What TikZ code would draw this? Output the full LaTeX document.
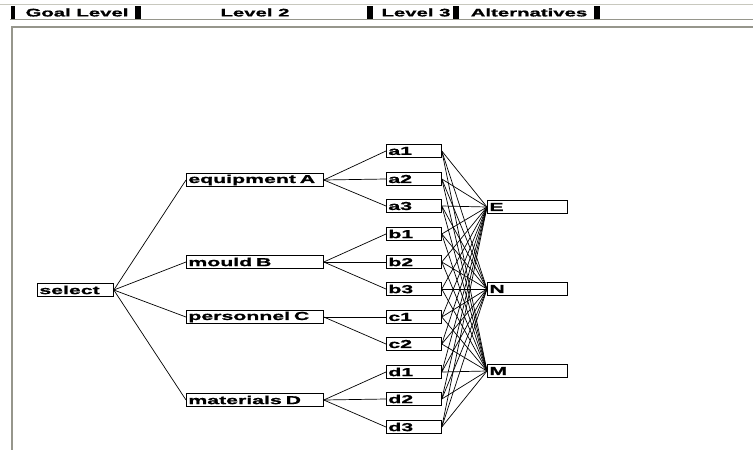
\documentclass[tikz,border=0pt]{standalone}
\usepackage{fontspec}
\newfontfamily\boxfont[FakeStretch=1.85,FakeBold=1.2]{Liberation Sans}
\definecolor{framegray}{RGB}{150,150,140}
\definecolor{lightgray}{RGB}{200,200,190}
\tikzset{
  box/.style={draw=black, line width=0.8pt, fill=white, anchor=west, inner sep=0pt,
    minimum height=13pt, align=left, font=\boxfont\bfseries\fontsize{11.5}{11}\selectfont},
  goalbox/.style={box, text width=72pt, minimum width=76pt, inner xsep=2pt},
  lvtwobox/.style={box, text width=133pt, minimum width=137pt, inner xsep=2pt},
  lvthreebox/.style={box, text width=51pt, minimum width=55pt, inner xsep=2pt},
  altbox/.style={box, text width=76pt, minimum width=80pt, inner xsep=2pt},
  link/.style={draw=black, line width=0.7pt},
  tabbar/.style={fill=black, draw=none},
  headtext/.style={font=\boxfont\bfseries\fontsize{11}{11}\selectfont, inner sep=0pt}
}
\begin{document}
\begin{tikzpicture}[x=1pt,y=-1pt]
\useasboundingbox (0,0) rectangle (753,450);
% header
\draw[lightgray, line width=1pt] (0,4) -- (753,4);
\draw[framegray, line width=1.5pt] (10,19.5) -- (753,19.5);
\fill[tabbar] (11,6) rectangle (15,19);
\fill[tabbar] (135,6) rectangle (141,19);
\fill[tabbar] (367,6) rectangle (373,19);
\fill[tabbar] (453,6) rectangle (459,19);
\fill[tabbar] (594,6) rectangle (600,19);
\node[headtext] (hgoal) at (77,12.5) {Goal Level};
\node[headtext] (hlev2) at (255,12.5) {Level 2};
\node[headtext] (hlev3) at (416,12.5) {Level 3};
\node[headtext] (halt) at (529,12.5) {Alternatives};
% frame
\draw[framegray, line width=2pt] (11.5,450) -- (11.5,26.5) -- (753,26.5);
% nodes
\node[goalbox] (sel) at (37,290) {select};
\node[lvtwobox] (A) at (186,180) {equipment A};
\node[lvtwobox] (B) at (186,262) {mould B};
\node[lvtwobox] (C) at (186,317) {personnel C};
\node[lvtwobox] (D) at (186,400) {materials D};
\foreach \n/\y in {a1/151,a2/179,a3/206,b1/234,b2/262,b3/289,c1/317,c2/344,d1/372,d2/399,d3/427}
  \node[lvthreebox] (\n) at (386,\y) {\n};
\node[altbox] (E) at (487,207) {E};
\node[altbox] (N) at (487,289) {N};
\node[altbox] (M) at (487,371) {M};
% links
\foreach \t in {A,B,C,D} \draw[link] (sel.east) -- (\t.west);
\foreach \t in {a1,a2,a3} \draw[link] (A.east) -- (\t.west);
\foreach \t in {b1,b2,b3} \draw[link] (B.east) -- (\t.west);
\foreach \t in {c1,c2} \draw[link] (C.east) -- (\t.west);
\foreach \t in {d1,d2,d3} \draw[link] (D.east) -- (\t.west);
\foreach \s in {a1,a2,a3,b1,b2,b3,c1,c2,d1,d2,d3}
  \foreach \t in {E,N,M}
    \draw[link] (\s.east) -- (\t.west);
\end{tikzpicture}
\end{document}
